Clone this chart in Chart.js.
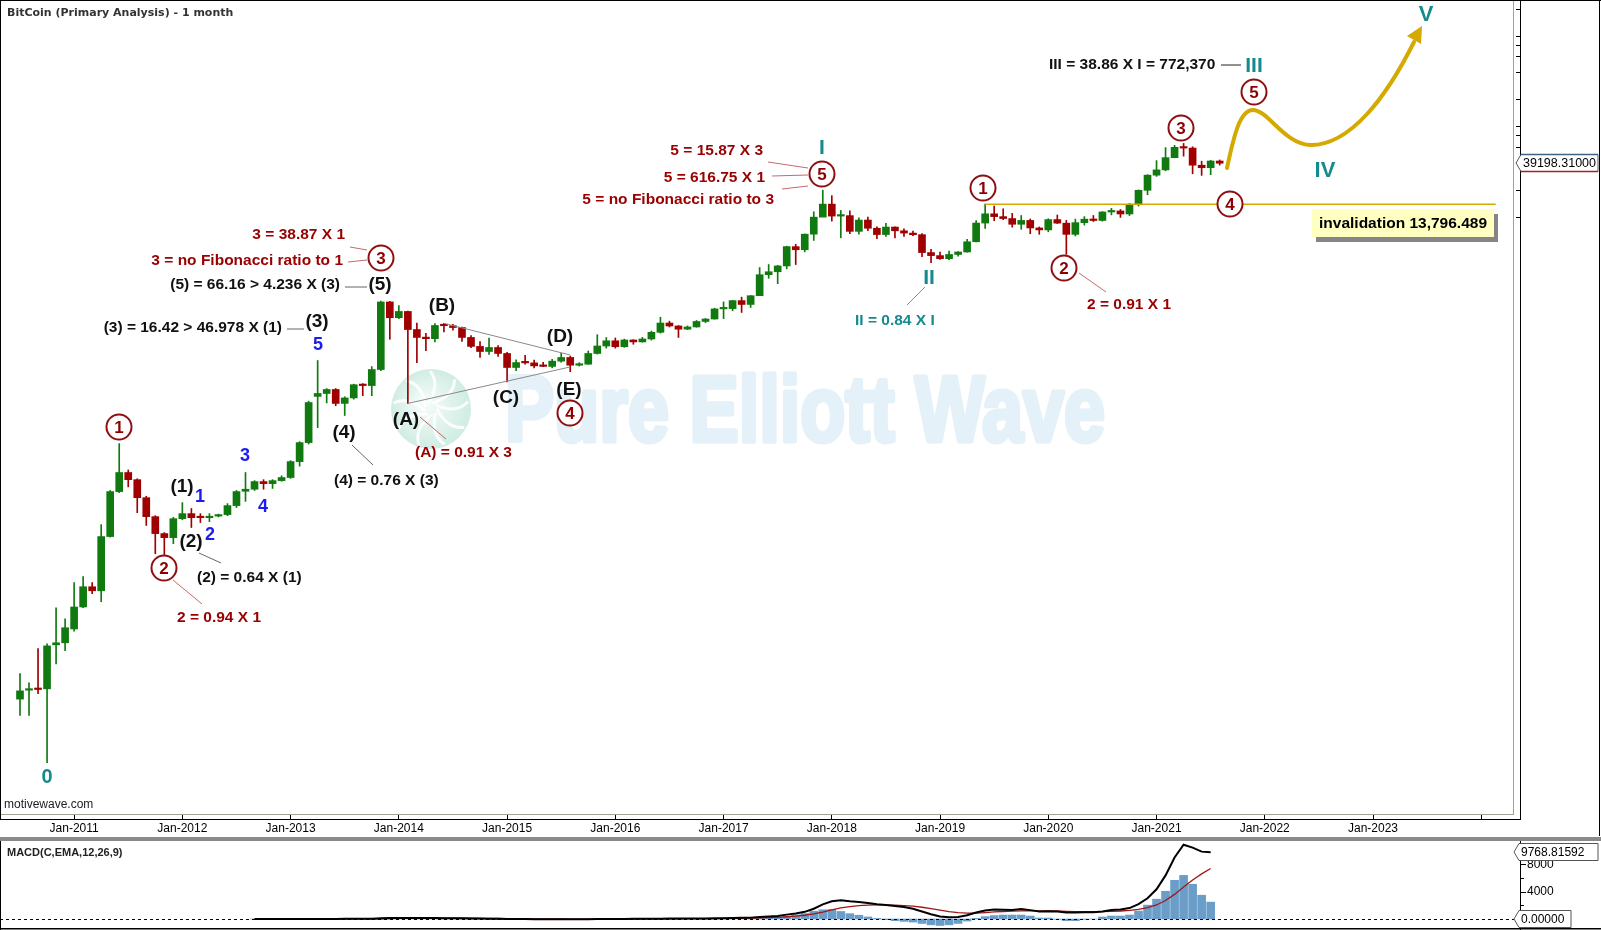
<!DOCTYPE html>
<html><head><meta charset="utf-8">
<script src="https://cdn.jsdelivr.net/npm/chart.js@4.4.1/dist/chart.umd.min.js"></script>
<style>
html,body{margin:0;padding:0;background:#fff;width:1601px;height:930px;overflow:hidden;}
#main{position:absolute;left:0;top:0;}
#macd{position:absolute;left:0;top:841px;}
#sep{position:absolute;left:0;top:837px;width:1601px;height:4px;background:#8a8a8a;}
</style></head><body>
<canvas id="main" width="1601" height="836"></canvas>
<div id="sep"></div>
<canvas id="macd" width="1601" height="89"></canvas>
<script>
// ---------- DATA (monthly, first bar = Jul-2010) ----------
const open = [0.047,0.059,0.061,0.061,0.187,0.197,0.28,0.49,0.82,0.74,
 2.94,9.23,15.0,12.5,7.9,4.88,3.17,2.86,4.63,5.27,
 4.8,4.75,4.95,5.14,6.46,9.3,9.8,11.9,11.3,12.2,
 13.2,19.8,32.1,104,112,124,87,100,140,137,
 206,1150,770,903,570,460,452,632,628,600,
 466,371,326,361,310,217,248,244,228,223,
 255,280,230,236,310,375,428,368,437,416,
 448,531,673,624,575,609,700,745,964,970,
 1190,1079,1348,2300,2480,2875,4700,4340,6450,9950,
 13860,10220,10340,6930,9240,7500,6390,7730,7030,6630,
 6370,4040,3740,3460,3850,4100,5320,8560,10830,10080,
 9600,8300,9150,7560,7190,9350,8540,6420,8650,9450,
 9140,11350,11650,10780,13800,19700,28950,33100,45200,58800,
 57700,37300,35000,41500];
const high = [0.09,0.071,0.17,0.192,0.48,0.363,0.91,1.06,0.91,3.98,
 9.5,31.3,16.0,12.8,8.2,5.0,3.25,4.8,6.97,6.0,
 5.27,5.27,5.2,6.8,9.5,15.0,12.2,12.5,12.5,13.8,
 20.3,32.9,92,259,127,127,103,142,144,222,
 1175,1165,1050,910,670,516,665,668,650,605,
 490,420,460,380,320,263,295,262,247,267,
 312,290,245,330,500,465,460,447,440,467,
 548,780,705,630,625,718,755,980,1150,1200,
 1300,1350,2760,2980,2920,4760,4980,6480,11400,19780,
 17200,11780,11700,9760,9990,7760,8500,7760,7410,7000,
 6550,4400,4090,4200,4130,5650,9100,13880,13200,12300,
 10950,10370,9500,7750,9560,10500,9190,9460,10080,10380,
 11450,12470,12090,14100,19860,29300,41950,58350,61780,64900,
 59600,41300,42300,42600];
const low = [0.031,0.031,0.054,0.0093,0.115,0.161,0.265,0.48,0.686,0.56,
 2.9,9.0,10.4,5.4,3.9,1.9,1.85,2.45,4.5,3.7,
 4.2,4.3,4.85,5.0,6.15,7.2,9.5,9.8,10.0,12.0,
 12.9,17.6,31,47,88,82,64,97,106,106,
 200,445,750,87,246,333,415,535,560,420,
 360,280,302,287,150,200,236,214,222,215,
 248,195,225,235,305,355,355,362,392,413,
 436,520,608,466,570,604,680,742,752,918,
 880,1000,1348,2100,1830,2670,2980,4110,5500,10700,
 9000,5880,6530,6440,7030,5760,6080,5880,6100,6200,
 3650,3120,3400,3380,3690,4080,5300,7450,9100,9330,
 7720,7300,6520,6430,6850,8450,3860,6160,8130,8900,
 8980,10540,9880,10370,13200,17600,28100,32300,45000,47000,
 30000,28800,29300,37400];
const close = [0.058,0.061,0.060,0.182,0.197,0.289,0.49,0.82,0.74,2.94,
 9.23,15.0,12.5,7.9,4.88,3.17,2.86,4.63,5.27,4.75,
 4.75,4.9,5.14,6.46,9.23,9.8,11.9,11.3,12.2,13.2,
 19.8,32.1,89,112,124,87,100,140,137,206,
 1150,770,903,570,466,452,632,628,600,466,
 371,326,361,310,217,246,244,226,223,255,
 280,230,236,310,375,428,368,437,416,448,
 531,673,624,575,609,700,745,964,970,1190,
 1079,1348,2300,2480,2875,4700,4340,6450,9950,13860,
 10220,10340,6930,9240,7500,6390,7730,7030,6630,6370,
 4040,3740,3460,3850,4100,5320,8560,10830,10080,9600,
 8300,9150,7560,7190,9350,8540,6420,8650,9450,9140,
 11350,11650,10780,13800,19700,28950,33100,45200,58800,57700,
 37300,35000,41500,39198.31];

const tickIndex = [6,18,30,42,54,66,78,90,102,114,126,138,150,162];
const tickLabels = ['Jan-2011','Jan-2012','Jan-2013','Jan-2014','Jan-2015','Jan-2016','Jan-2017','Jan-2018','Jan-2019','Jan-2020','Jan-2021','Jan-2022','Jan-2023',''];

const macdStart = 26; // Sep-2012
const macdLine = [0.3,0.4,0.5,0.6,1.4,3.5,9,14,18,18,
 19,22,24,31,105,135,160,160,150,138,
 134,128,118,100,80,58,44,26,6,-6,
 -15,-23,-29,-30,-28,-30,-29,-22,-8,4,
 9,16,19,24,34,54,63,66,70,79,
 88,112,128,156,166,196,280,360,440,640,
 800,1050,1500,2150,2600,2760,2600,2500,2350,2150,
 2050,1900,1750,1500,1100,700,380,250,280,550,
 950,1250,1400,1350,1300,1450,1300,1100,1150,1100,
 950,950,1000,1000,1100,1300,1400,1600,2170,3040,
 4350,6380,9000,10870,10440,9860,9768.82];
const signalLine = [0.1,0.2,0.3,0.4,0.6,1.2,2.8,5,8,10,
 12,14,16,19,36,56,77,93,105,111,
 116,118,118,115,108,98,87,75,61,48,
 35,24,13,4,-2,-8,-12,-14,-13,-9,
 -5,-1,3,7,13,21,29,37,43,51,
 58,69,81,95,110,127,158,199,247,326,
 421,547,737,1020,1336,1620,1816,1953,2032,2056,
 2055,2024,1969,1875,1720,1516,1289,1081,921,847,
 868,944,1035,1098,1138,1200,1220,1196,1187,1170,
 1126,1091,1073,1058,1067,1113,1171,1257,1400,1650,
 2050,2700,3600,4700,5700,6600,7400];
const histogram = [0.2,0.2,0.2,0.2,0.8,2.3,6,9,10,8,
 7,8,8,12,69,79,83,67,45,27,
 18,10,0,-15,-28,-40,-43,-49,-55,-54,
 -50,-47,-42,-34,-26,-22,-17,-8,5,13,
 14,17,16,17,21,33,34,29,27,28,
 30,43,47,61,56,69,122,161,193,350,
 600,800,1150,1350,1400,1100,780,550,300,80,
 -100,-250,-350,-450,-650,-850,-950,-850,-650,-300,
 100,350,500,580,580,580,435,145,145,-30,
 -245,-245,-50,0,290,435,435,580,1160,2030,
 2900,4060,5660,6380,5080,3480,2470];

const invalidation = 13796.489;
const lastPrice = 39198.31;
const lastMacd = 9768.81592;
const macdTicks = [4000, 8000];

// ---------- STYLE ----------
const FAM = '"Liberation Sans", Arial, Helvetica, sans-serif';
Chart.defaults.font.family = FAM;
const GREEN = '#107a10', RED = '#a00000';
const TXT_RED = '#990000', TEAL = '#168a8e', BLUE = '#1c1cf2', BLK = '#111111';
const F = (size, w) => (w || 'bold') + ' ' + size + 'px ' + FAM;

const X_MIN = -2.106, X_MAX = 165.63;

// annotation layout (pixels)
const waveLabels = [['(5)',380,285],['(3)',317,322],['(B)',442,306],['(D)',560,337],['(A)',406,420],['(C)',506,398],['(E)',569,390],['(4)',344,433],['(1)',182,487],['(2)',191,542]];
const blueLabels = [['5',318,345],['1',200,497],['2',210,535],['3',245,456],['4',263,507]];
const tealLabels = [['0',47,777,20],['I',822,148,21],['II',929,278,21],['III',1254,66,21],['IV',1325,171,22],['V',1426,15,22]];
const circles = [['1',119,427],['2',164,568],['3',381,258],['4',570,413],['5',822,174],['1',983,188],['2',1064,268],['3',1181,128],['4',1230,204],['5',1254,92]];
const notes = [
 ['3 = 38.87 X 1',345,235,TXT_RED,'right'],
 ['3 = no Fibonacci ratio to 1',343,261,TXT_RED,'right'],
 ['(5) = 66.16 > 4.236 X (3)',340,285,BLK,'right'],
 ['(3) = 16.42 > 46.978 X (1)',282,328,BLK,'right'],
 ['(4) = 0.76 X (3)',334,481,BLK,'left'],
 ['(A) = 0.91 X 3',415,453,TXT_RED,'left'],
 ['(2) = 0.64 X (1)',197,578,BLK,'left'],
 ['2 = 0.94 X 1',177,618,TXT_RED,'left'],
 ['5 = 15.87 X 3',763,151,TXT_RED,'right'],
 ['5 = 616.75 X 1',765,178,TXT_RED,'right'],
 ['5 = no Fibonacci ratio to 3',774,200,TXT_RED,'right'],
 ['II = 0.84 X I',855,321,TEAL,'left'],
 ['2 = 0.91 X 1',1087,305,TXT_RED,'left'],
 ['III = 38.86 X I = 772,370',1049,65,BLK,'left']
];
const connectors = [
 [350,247,367,250,'#c46a6a'],[348,262,367,260,'#c46a6a'],[420,417,446,439,'#c46a6a'],[173,580,202,604,'#c46a6a'],
 [768,162,808,168,'#c46a6a'],[772,176,808,175,'#c46a6a'],[782,189,808,186,'#c46a6a'],[1079,273,1106,292,'#c46a6a'],
 [345,287,367,287,'#666'],[287,329,304,329,'#666'],[352,445,373,465,'#666'],[199,553,221,563,'#666'],
 [1221,65,1241,65,'#222'],[925,287,907,305,'#4aa7aa']
];

function seg(ctx,x1,y1,x2,y2,color,w){ctx.save();ctx.strokeStyle=color;ctx.lineWidth=w||1;ctx.beginPath();ctx.moveTo(x1,y1);ctx.lineTo(x2,y2);ctx.stroke();ctx.restore();}
function text(ctx,s,x,y,color,font,align){ctx.save();ctx.font=font;ctx.fillStyle=color;ctx.textAlign=align||'center';ctx.textBaseline='middle';ctx.fillText(s,x,y);ctx.restore();}

function drawWatermark(ctx){
  ctx.save();
  // logo
  const cx=431, cy=409, r=40;
  const g=ctx.createRadialGradient(cx-8,cy-6,4,cx,cy,r);
  g.addColorStop(0,'#f4fbf9'); g.addColorStop(1,'#cfece3');
  ctx.fillStyle=g; ctx.beginPath(); ctx.arc(cx,cy,r,0,Math.PI*2); ctx.fill();
  ctx.strokeStyle='rgba(255,255,255,0.85)'; ctx.lineWidth=3;
  for(let k=0;k<9;k++){
    const a=k*Math.PI*2/9;
    ctx.beginPath();
    ctx.moveTo(cx+Math.cos(a)*6,cy+Math.sin(a)*6);
    ctx.quadraticCurveTo(cx+Math.cos(a+0.9)*26,cy+Math.sin(a+0.9)*26,cx+Math.cos(a+0.5)*(r-2),cy+Math.sin(a+0.5)*(r-2));
    ctx.stroke();
  }
  // text (heavy, condensed)
  ctx.font='bold 92px '+FAM;
  const s='Pure Elliott Wave';
  const w=ctx.measureText(s).width;
  ctx.translate(505,441); ctx.scale(600/w,1);
  ctx.fillStyle='#e4f1f8'; ctx.strokeStyle='#e4f1f8'; ctx.lineWidth=5; ctx.lineJoin='round';
  ctx.textAlign='left'; ctx.textBaseline='alphabetic';
  ctx.strokeText(s,0,0);
  ctx.fillText(s,0,0);
  ctx.restore();
}

function priceBox(ctx,label,tipX,y,right,fontSize,bottomColor){
  ctx.save();
  ctx.font=F(fontSize,'normal');
  const h=17, top=y-h/2;
  ctx.beginPath(); ctx.moveTo(tipX,y); ctx.lineTo(tipX+5,top); ctx.lineTo(right,top); ctx.lineTo(right,top+h); ctx.lineTo(tipX+5,top+h); ctx.closePath();
  ctx.fillStyle='#fff'; ctx.fill(); ctx.strokeStyle='#555'; ctx.lineWidth=1; ctx.stroke();
  if(bottomColor){ seg(ctx,tipX+5,top+h,right,top+h,bottomColor,1.5); seg(ctx,tipX+5,top,right,top,'#3f6488',1.5); }
  ctx.fillStyle='#000'; ctx.textAlign='left'; ctx.textBaseline='middle';
  ctx.fillText(label,tipX+7,y+0.5);
  ctx.restore();
}

const overlay = {
  id:'overlay',
  beforeDatasetsDraw(chart){ drawWatermark(chart.ctx); },
  afterDatasetsDraw(chart){
    const ctx=chart.ctx, xs=chart.scales.x, ys=chart.scales.y;
    const px=v=>xs.getPixelForValue(v), py=v=>ys.getPixelForValue(v);
    // triangle trend lines
    seg(ctx,px(43),py(low[43]),px(61),py(220),'#8a8a8a',1);
    seg(ctx,px(47),py(high[47]),px(61),py(298),'#8a8a8a',1);
    // invalidation line
    seg(ctx,px(107),py(invalidation),px(163.6),py(invalidation),'#d6a800',1.5);
    // projection curve
    ctx.save();
    ctx.strokeStyle='#d4a900'; ctx.lineWidth=4; ctx.lineCap='round';
    ctx.beginPath(); ctx.moveTo(1227,168);
    ctx.bezierCurveTo(1234,135,1240,110,1253,110);
    ctx.bezierCurveTo(1268,110,1285,145,1311,145);
    ctx.bezierCurveTo(1350,145,1386,98,1414,42);
    ctx.stroke();
    ctx.fillStyle='#d4a900'; ctx.beginPath();
    ctx.moveTo(1422,26); ctx.lineTo(1421,44); ctx.lineTo(1407,36); ctx.closePath(); ctx.fill();
    ctx.restore();
    // connectors
    connectors.forEach(c=>seg(ctx,c[0],c[1],c[2],c[3],c[4],1));
    // notes
    notes.forEach(n=>text(ctx,n[0],n[1],n[2],n[3],F(15.5),n[4]));
    waveLabels.forEach(l=>text(ctx,l[0],l[1],l[2],BLK,F(19)));
    blueLabels.forEach(l=>text(ctx,l[0],l[1],l[2],BLUE,F(18)));
    tealLabels.forEach(l=>text(ctx,l[0],l[1],l[2],TEAL,F(l[3])));
    circles.forEach(c=>{
      ctx.save(); ctx.beginPath(); ctx.arc(c[1],c[2],12.5,0,Math.PI*2);
      ctx.fillStyle='#fff'; ctx.fill(); ctx.strokeStyle='#8e1010'; ctx.lineWidth=2; ctx.stroke(); ctx.restore();
      text(ctx,c[0],c[1],c[2]+1,'#8e0000',F(17));
    });
    // invalidation box
    ctx.save();
    ctx.fillStyle='#858585'; ctx.fillRect(1316,214,182,28);
    ctx.fillStyle='#ffffc2'; ctx.fillRect(1312,209,182,28);
    ctx.restore();
    text(ctx,'invalidation '+invalidation.toLocaleString('en-US',{minimumFractionDigits:3}),1403,223.5,'#000',F(15.5));
  },
  afterDraw(chart){
    const ctx=chart.ctx, ys=chart.scales.y;
    ctx.save();
    ctx.fillStyle='#000';
    ctx.fillRect(0,0,1601,1);
    ctx.fillRect(0,0,1,820);
    ctx.fillRect(1599,0,1,836);
    ctx.fillRect(1520,0,1,820);
    ctx.fillRect(0,819,1521,1);
    ctx.fillStyle='#a4a294';
    ctx.fillRect(1513,1,1,813);
    ctx.fillRect(1,814,1513,1);
    // minor price-axis ticks
    ctx.fillStyle='#000';
    ys.ticks.filter(t=>t.value>=10000 && t.value<=2400000).forEach(t=>{
      const y=Math.round(ys.getPixelForValue(t.value));
      ctx.fillRect(1516,y,5,1);
    });
    ctx.restore();
    priceBox(ctx,lastPrice.toFixed(5),1516,Math.round(ys.getPixelForValue(lastPrice)),1598,12.5,'#a52020');
    text(ctx,'BitCoin (Primary Analysis) - 1 month',7,13,'#333','bold 11px "DejaVu Sans", Verdana, sans-serif','left');
    text(ctx,'motivewave.com',4,805,'#222',F(12,'normal'),'left');
  }
};

const idx = close.map((_,i)=>i);
const candleColors = idx.map(i=>close[i]>=open[i]?GREEN:RED);

new Chart(document.getElementById('main'),{
  type:'bar',
  data:{datasets:[
    {data:idx.map(i=>({x:i,y:[open[i],close[i]]})),backgroundColor:candleColors,barThickness:7,minBarLength:1.5,grouped:false,order:0,borderWidth:0},
    {data:idx.map(i=>({x:i,y:[low[i],high[i]]})),backgroundColor:candleColors,barThickness:1,grouped:false,order:1,borderWidth:0}
  ]},
  options:{
    responsive:false,animation:false,devicePixelRatio:1,
    layout:{padding:{left:1,top:1,right:87,bottom:0}},
    plugins:{legend:{display:false},tooltip:{enabled:false}},
    scales:{
      x:{type:'linear',min:X_MIN,max:X_MAX,offset:false,bounds:'data',
        afterFit:s=>{s.height=22;},
        afterBuildTicks:s=>{s.ticks=tickIndex.map(v=>({value:v}));},
        ticks:{callback:(v,i)=>tickLabels[i],maxRotation:0,minRotation:0,autoSkip:false,padding:2,color:'#000',font:{size:12}},
        grid:{offset:false,drawOnChartArea:false,drawTicks:true,tickLength:5,color:'#000'},
        border:{display:false}},
      y:{type:'logarithmic',display:false,min:0.002527,max:2433000,bounds:'data'}
    }
  },
  plugins:[overlay]
});

// ---------- MACD ----------
const mx = macdLine.map((_,k)=>k+macdStart);
const macdOverlay = {
  id:'macdOverlay',
  afterDatasetsDraw(chart){
    const ctx=chart.ctx, ys=chart.scales.y;
    const y0=Math.round(ys.getPixelForValue(0))+0.5;
    ctx.save(); ctx.setLineDash([3,3]); ctx.strokeStyle='#000'; ctx.lineWidth=1;
    ctx.beginPath(); ctx.moveTo(0,y0); ctx.lineTo(1514,y0); ctx.stroke(); ctx.restore();
    ctx.save(); ctx.fillStyle='#000';
    ctx.fillRect(1520,0,1,89); ctx.fillRect(0,0,1,89); ctx.fillRect(0,87,1601,1.5);
    [2000,4000,6000,8000].forEach(v=>{
      const y=Math.round(ys.getPixelForValue(v));
      ctx.fillRect(1521,y,(v%4000===0)?5:3,1);
    });
    ctx.restore();
    macdTicks.forEach(v=>text(ctx,String(v),1527,ys.getPixelForValue(v),'#000',F(12,'normal'),'left'));
    priceBox(ctx,lastMacd.toFixed(5),1514,Math.round(ys.getPixelForValue(lastMacd)),1598,12);
    priceBox(ctx,(0).toFixed(5),1514,Math.round(ys.getPixelForValue(0)),1571,12);
    text(ctx,'MACD(C,EMA,12,26,9)',7,12,'#222',F(11),'left');
  }
};
new Chart(document.getElementById('macd'),{
  type:'bar',
  data:{datasets:[
    {type:'line',data:mx.map((x,k)=>({x,y:macdLine[k]})),borderColor:'#000',borderWidth:2,pointRadius:0,order:0},
    {type:'line',data:mx.map((x,k)=>({x,y:signalLine[k]})),borderColor:'#a31515',borderWidth:1.3,pointRadius:0,order:1},
    {type:'bar',data:mx.map((x,k)=>({x,y:histogram[k]})),backgroundColor:'#6a9ec9',barThickness:8,grouped:false,order:2,borderWidth:0}
  ]},
  options:{
    responsive:false,animation:false,devicePixelRatio:1,
    layout:{padding:{left:1,top:0,right:87,bottom:2}},
    plugins:{legend:{display:false},tooltip:{enabled:false}},
    scales:{
      x:{type:'linear',display:false,min:X_MIN,max:X_MAX,offset:false,bounds:'data'},
      y:{type:'linear',display:false,min:-1317,max:11415,bounds:'data'}
    }
  },
  plugins:[macdOverlay]
});
</script>
</body></html>
